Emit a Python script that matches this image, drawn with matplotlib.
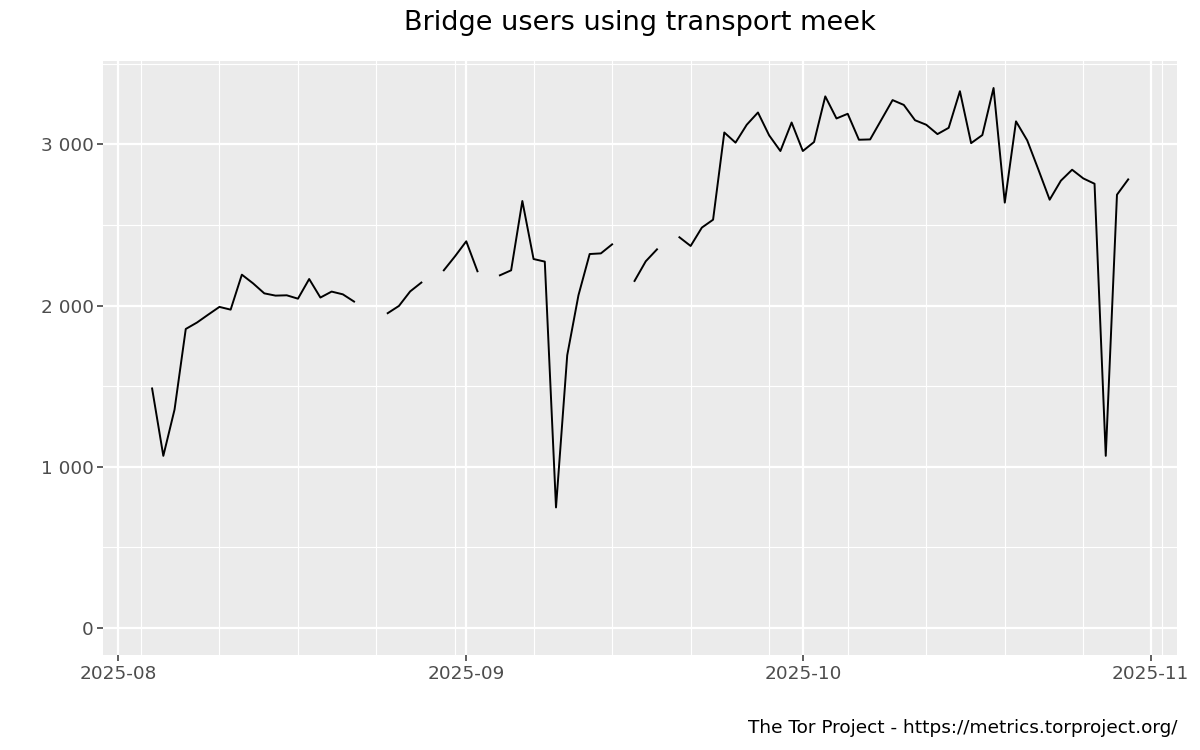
import numpy as np
import pandas as pd
import matplotlib
matplotlib.use("Agg")
import matplotlib.pyplot as plt
import matplotlib.dates as mdates

# daily bridge users, NaN where no data
aug_users = [1486, 1068, 1355, 1855, 1895, 1944, 1992, 1975, 2192, 2138,
             2076, 2062, 2064, 2043, 2165, 2050, 2087, 2070, 2025, np.nan,
             np.nan, 1953, 1998, 2088, 2143, np.nan, 2219, 2306]          # Aug 4 - Aug 31
sep_users = [2399, 2213, np.nan, 2188, 2219, 2649, 2289, 2273, 748, 1692,
             2064, 2320, 2324, 2380, np.nan, 2153, 2275, 2349, np.nan, 2424,
             2370, 2484, 2533, 3074, 3011, 3122, 3198, 3056, 2959, 3136]  # Sep 1 - Sep 30
oct_users = [2959, 3015, 3298, 3161, 3190, 3029, 3031, 3153, 3275, 3245,
             3150, 3122, 3064, 3103, 3330, 3008, 3058, 3350, 2639, 3143,
             3025, 2843, 2657, 2775, 2843, 2789, 2756, 1068, 2688, 2783]  # Oct 1 - Oct 30

users = aug_users + sep_users + oct_users
dates = pd.date_range("2025-08-04", periods=len(users), freq="D")

month_ticks = pd.to_datetime(["2025-08-01", "2025-09-01", "2025-10-01", "2025-11-01"])
month_labels = ["2025-08", "2025-09", "2025-10", "2025-11"]
week_ticks = pd.date_range("2025-08-03", "2025-11-02", freq="7D")
y_major = [0, 1000, 2000, 3000]
y_minor = [500, 1500, 2500, 3500]

fig = plt.figure(figsize=(12, 7.5), dpi=100)
ax = fig.add_axes([103.3 / 1200, 1 - 655 / 750, (1177 - 103.3) / 1200, (655 - 61) / 750])
ax.set_facecolor("#EBEBEB")
for s in ax.spines.values():
    s.set_visible(False)

x = mdates.date2num(dates)
ax.plot(x, users, color="black", lw=1.4, zorder=3)

# ggplot-like 5% expansion
xr = x[-1] - x[0]
ax.set_xlim(x[0] - 0.05 * xr, x[-1] + 0.05 * xr)
ymax = np.nanmax(users)
ax.set_ylim(-0.05 * ymax, 1.05 * ymax)

ax.set_xticks(mdates.date2num(month_ticks))
ax.set_xticklabels(month_labels)
ax.set_xticks(mdates.date2num(week_ticks), minor=True)
ax.set_yticks(y_major)
ax.set_yticklabels([f"{v:,}".replace(",", " ") for v in y_major])
ax.set_yticks(y_minor, minor=True)

ax.grid(which="major", color="white", lw=1.6, zorder=1)
ax.grid(which="minor", color="white", lw=0.8, zorder=1)
ax.set_axisbelow(True)

ax.tick_params(which="major", length=4, width=1.1, color="#333333",
               labelsize=13.3, labelcolor="#4D4D4D", pad=3)
ax.tick_params(which="minor", length=0)

fig.text((103.3 + 1177) / 2 / 1200, 1 - 23 / 750, "Bridge users using transport meek",
         ha="center", va="center", fontsize=19.5, color="black")
fig.text(1177 / 1200, 1 - 728 / 750, "The Tor Project - https://metrics.torproject.org/",
         ha="right", va="center", fontsize=13.3, color="black")

fig.savefig("out.png", dpi=100)
